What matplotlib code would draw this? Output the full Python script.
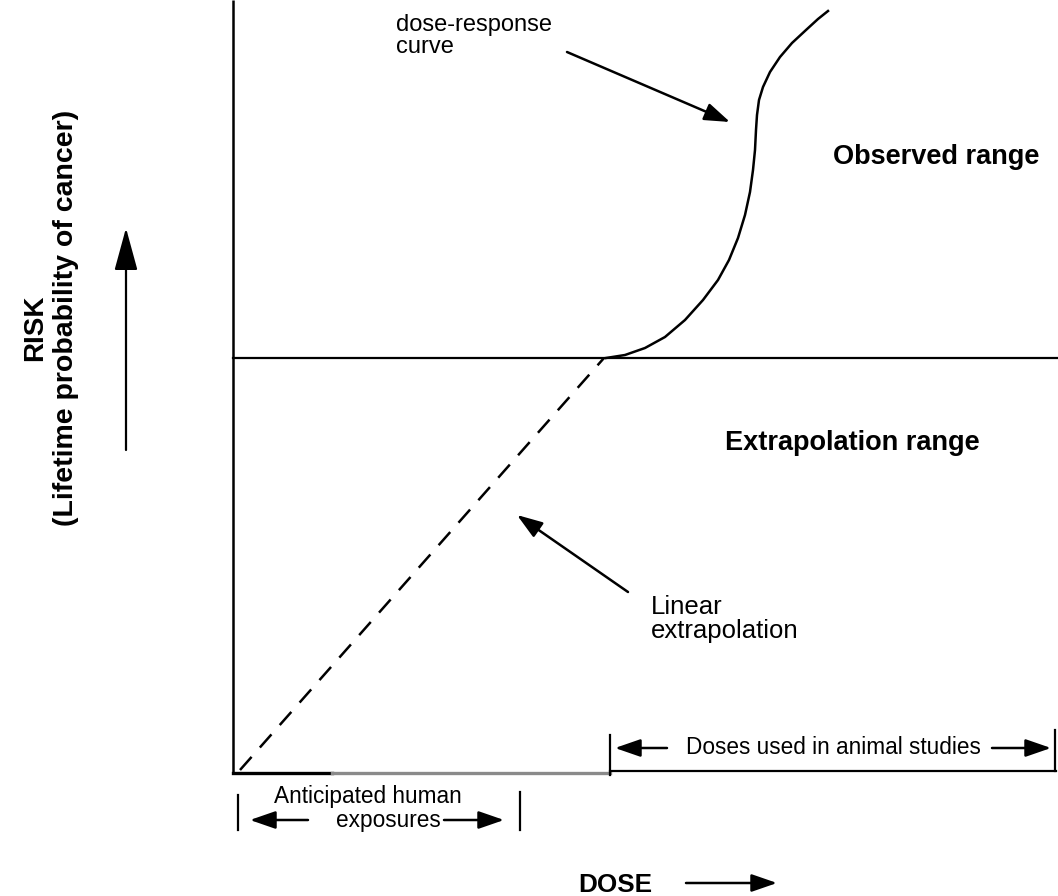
import numpy as np
import matplotlib
matplotlib.use("Agg")
import matplotlib.pyplot as plt

plt.rcParams["font.family"] = ["Liberation Sans", "DejaVu Sans"]

# Схема в пиксельных координатах (ось y вниз)
curve_x = [606, 625, 645, 665, 685, 703, 718, 729, 738, 745, 750, 753, 755, 756, 757,
           759, 763, 770, 780, 792, 806, 818, 828]
curve_y = [358, 355, 348, 337, 320, 300, 280, 260, 238, 215, 192, 170, 150, 130, 115,
           100, 87, 72, 57, 43, 30, 19, 11]

linear_x = [240, 604]
linear_y = [770, 358]

risk_label = "RISK"
risk_sub = "(Lifetime probability of cancer)"
dose_label = "DOSE"
observed = "Observed range"
extrap = "Extrapolation range"
dr_label = "dose-response\ncurve"
lin_label = "Linear\nextrapolation"
human_top = "Anticipated human"
human_bot = "exposures"
animal = "Doses used in animal studies"

fig = plt.figure(figsize=(10.58, 8.96), dpi=100)
ax = fig.add_axes([0, 0, 1, 1])
ax.set_xlim(0, 1058)
ax.set_ylim(896, 0)
ax.axis("off")

lw = 1.8
# оси
ax.plot([233, 233], [0, 774], color="black", lw=lw, solid_capstyle="butt")
ax.plot([233, 332], [773, 773], color="black", lw=2.4)
ax.plot([332, 610], [773, 773], color="#8a8a8a", lw=2.4)
ax.plot([610, 1056], [771, 771], color="black", lw=1.6)
# граница диапазонов
ax.plot([233, 1058], [358, 358], color="black", lw=1.6)

# кривая доза-эффект и линейная экстраполяция
ax.plot(curve_x, curve_y, color="black", lw=1.8)
ax.plot(linear_x, linear_y, color="black", lw=1.8, dashes=(7, 5))

arrow = dict(arrowstyle="-|>,head_length=1.3,head_width=0.45", color="black",
             lw=1.8, mutation_scale=12, shrinkA=0, shrinkB=0)

# стрелки-указатели
ax.annotate("", xy=(730, 122), xytext=(567, 52), arrowprops=arrow)
ax.annotate("", xy=(517, 515), xytext=(628, 592), arrowprops=arrow)

# тексты
ax.text(396, 36, dr_label, fontsize=17, va="center", ha="left", linespacing=1.05)
ax.text(651, 619, lin_label, fontsize=18.5, va="center", ha="left", linespacing=1.0)
ax.text(833, 157, observed, fontsize=19.5, fontweight="bold", va="center", ha="left")
ax.text(725, 443, extrap, fontsize=19.5, fontweight="bold", va="center", ha="left")

# ось риска
ax.text(35, 328, risk_label, fontsize=20, fontweight="bold", rotation=90, va="center", ha="center")
ax.text(66, 318, risk_sub, fontsize=20.5, fontweight="bold", rotation=90, va="center", ha="center")
ax.annotate("", xy=(126, 228), xytext=(126, 450),
            arrowprops=dict(arrowstyle="-|>,head_length=2.2,head_width=0.6", color="black",
                            lw=1.6, mutation_scale=12, shrinkA=0, shrinkB=0))

# ось дозы
ax.text(615, 885, dose_label, fontsize=18.8, fontweight="bold", va="center", ha="center")
ax.annotate("", xy=(777, 883), xytext=(686, 883), arrowprops=arrow)

# ожидаемые дозы для человека
ax.plot([238, 238], [795, 830], color="black", lw=1.6)
ax.plot([520, 520], [792, 830], color="black", lw=1.6)
ax.text(368, 797, human_top, fontsize=16.3, va="center", ha="center")
ax.text(388, 820, human_bot, fontsize=16.3, va="center", ha="center")
ax.annotate("", xy=(250, 820), xytext=(308, 820), arrowprops=arrow)
ax.annotate("", xy=(504, 820), xytext=(444, 820), arrowprops=arrow)

# дозы в исследованиях на животных
ax.plot([610, 610], [735, 775], color="black", lw=1.6)
ax.plot([1055, 1055], [730, 771], color="black", lw=1.6)
ax.text(833, 748, animal, fontsize=16.3, va="center", ha="center")
ax.annotate("", xy=(615, 748), xytext=(667, 748), arrowprops=arrow)
ax.annotate("", xy=(1051, 748), xytext=(992, 748), arrowprops=arrow)

plt.savefig("out.png", dpi=100)
